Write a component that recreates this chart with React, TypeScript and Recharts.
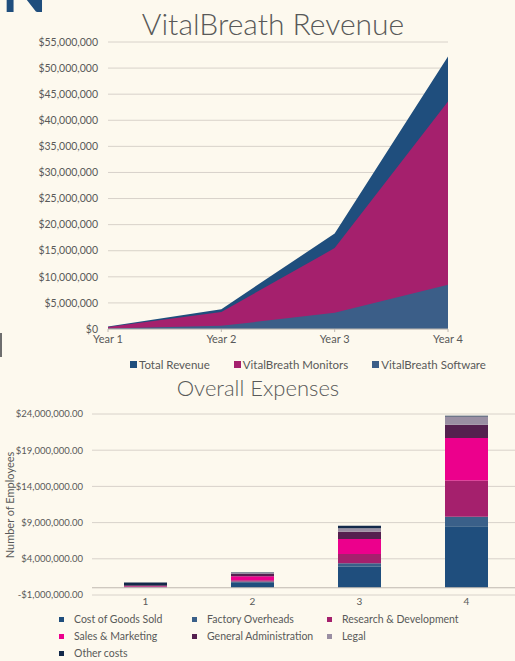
import React from "react";
import {
  AreaChart,
  Area,
  BarChart,
  Bar,
  XAxis,
  YAxis,
  CartesianGrid,
  ReferenceLine,
} from "recharts";

const years = ["Year 1", "Year 2", "Year 3", "Year 4"];
const totalRevenue = [500000, 3800000, 18300000, 52200000];
const monitorRevenue = [400000, 3250000, 15500000, 43600000];
const softwareRevenue = [100000, 600000, 3100000, 8500000];
const revenueTicks = [0, 5e6, 10e6, 15e6, 20e6, 25e6, 30e6, 35e6, 40e6, 45e6, 50e6, 55e6];

const periods = ["1", "2", "3", "4"];
const costOfGoodsSold = [50000, 750000, 2900000, 8500000];
const factoryOverheads = [20000, 100000, 500000, 1300000];
const researchDevelopment = [80000, 200000, 1250000, 5000000];
const salesMarketing = [70000, 550000, 2100000, 5900000];
const generalAdmin = [120000, 300000, 1000000, 1800000];
const legalCosts = [20000, 150000, 460000, 1150000];
const otherCosts = [380000, 50000, 370000, 100000];
const expenseTicks = [-1e6, 4e6, 9e6, 14e6, 19e6, 24e6];

const BG = "#FDF9EE";
const TEXT = "#595959";
const GRID = "#D8D2CA";
const FONT = "Lato, 'Open Sans', sans-serif";

const revenueSeries = [
  { key: "total", label: "Total Revenue", color: "#1F4E7D" },
  { key: "monitors", label: "VitalBreath Monitors", color: "#A5206D" },
  { key: "software", label: "VitalBreath Software", color: "#3B5E88" },
];

const expenseSeries = [
  { key: "cogs", label: "Cost of Goods Sold", color: "#1F4E7D" },
  { key: "factory", label: "Factory Overheads", color: "#3A6089" },
  { key: "rnd", label: "Research & Development", color: "#A5206D" },
  { key: "sales", label: "Sales & Marketing", color: "#EC008C" },
  { key: "admin", label: "General Administration", color: "#55204F" },
  { key: "legal", label: "Legal", color: "#9A8FA3" },
  { key: "other", label: "Other costs", color: "#13294A" },
];

const revenueData = years.map((y, i) => ({
  name: y,
  total: totalRevenue[i],
  monitors: monitorRevenue[i],
  software: softwareRevenue[i],
}));

const expenseData = periods.map((p, i) => ({
  name: p,
  cogs: costOfGoodsSold[i],
  factory: factoryOverheads[i],
  rnd: researchDevelopment[i],
  sales: salesMarketing[i],
  admin: generalAdmin[i],
  legal: legalCosts[i],
  other: otherCosts[i],
}));

const money = (v: number) => (v < 0 ? "-$" : "$") + Math.abs(v).toLocaleString("en-US");
const money2 = (v: number) =>
  (v < 0 ? "-$" : "$") + Math.abs(v).toLocaleString("en-US", { minimumFractionDigits: 2 });

export default function App() {
  return (
    <div
      style={{
        position: "absolute",
        left: 0,
        top: 0,
        width: 515,
        height: 661,
        overflow: "hidden",
        background: BG,
        fontFamily: FONT,
        color: TEXT,
      }}
    >
      {/* page decorations */}
      <div
        style={{
          position: "absolute",
          left: 2,
          top: -39,
          fontSize: 58,
          fontWeight: 700,
          lineHeight: 1,
          color: "#1F4E7D",
        }}
      >
        N
      </div>
      <div style={{ position: "absolute", left: 0, top: 333, width: 2, height: 24, background: "#6E6E6E" }} />

      {/* revenue chart */}
      <div
        style={{
          position: "absolute",
          left: 0,
          width: 546,
          top: 5,
          textAlign: "center",
          fontSize: 30,
          fontWeight: 300,
        }}
      >
        VitalBreath Revenue
      </div>
      <div style={{ position: "absolute", left: 0, top: 0 }}>
        <AreaChart
          width={515}
          height={347}
          data={revenueData}
          margin={{ top: 42, right: 67, bottom: 0, left: 0 }}
        >
          <CartesianGrid vertical={false} stroke={GRID} strokeWidth={1} />
          <XAxis
            dataKey="name"
            height={18}
            tick={{ fill: TEXT, fontSize: 11, fontFamily: FONT }}
            tickSize={3}
            tickMargin={3}
            axisLine={{ stroke: "#BFB8B0" }}
            tickLine={{ stroke: "#BFB8B0" }}
          />
          <YAxis
            width={108}
            domain={[0, 55e6]}
            ticks={revenueTicks}
            interval={0}
            tickFormatter={money}
            tick={{ fill: TEXT, fontSize: 10.5, fontFamily: FONT }}
            tickSize={0}
            tickMargin={10}
            axisLine={false}
            tickLine={false}
          />
          {revenueSeries.map((s) => (
            <Area
              key={s.key}
              type="linear"
              dataKey={s.key}
              fill={s.color}
              fillOpacity={1}
              stroke="none"
              isAnimationActive={false}
            />
          ))}
        </AreaChart>
      </div>
      <div
        style={{
          position: "absolute",
          left: 130,
          top: 358,
          display: "flex",
          gap: 24,
          fontSize: 11.5,
          whiteSpace: "nowrap",
        }}
      >
        {revenueSeries.map((s) => (
          <div key={s.key} style={{ display: "flex", alignItems: "center", gap: 2 }}>
            <span style={{ width: 7, height: 7, background: s.color, display: "inline-block" }} />
            <span>{s.label}</span>
          </div>
        ))}
      </div>

      {/* expenses chart */}
      <div
        style={{
          position: "absolute",
          left: 0,
          width: 516,
          top: 374,
          textAlign: "center",
          fontSize: 22,
          fontWeight: 300,
        }}
      >
        Overall Expenses
      </div>
      <div
        style={{
          position: "absolute",
          left: 10 - 60,
          top: 505 - 8,
          width: 120,
          height: 16,
          textAlign: "center",
          fontSize: 11,
          lineHeight: "16px",
          transform: "rotate(-90deg)",
          whiteSpace: "nowrap",
        }}
      >
        Number of Employees
      </div>
      <div style={{ position: "absolute", left: 0, top: 400 }}>
        <BarChart
          width={530}
          height={215}
          data={expenseData}
          margin={{ top: 14, right: 10, bottom: 0, left: 0 }}
        >
          <CartesianGrid vertical={false} stroke={GRID} strokeWidth={1} />
          <XAxis
            dataKey="name"
            height={20}
            tick={{ fill: TEXT, fontSize: 10, fontFamily: FONT }}
            tickSize={0}
            tickMargin={3}
            axisLine={false}
            tickLine={false}
          />
          <YAxis
            width={92}
            domain={[-1e6, 24e6]}
            ticks={expenseTicks}
            interval={0}
            tickFormatter={money2}
            tick={{ fill: TEXT, fontSize: 9.5, fontFamily: FONT }}
            tickSize={0}
            tickMargin={9}
            axisLine={false}
            tickLine={false}
          />
          <ReferenceLine y={0} stroke="#BFB8B0" strokeWidth={1} />
          {expenseSeries.map((s) => (
            <Bar key={s.key} dataKey={s.key} stackId="a" fill={s.color} barSize={43} isAnimationActive={false} />
          ))}
        </BarChart>
      </div>
      <div
        style={{
          position: "absolute",
          left: 59,
          top: 612,
          display: "grid",
          gridTemplateColumns: "133px 135px 160px",
          rowGap: 3,
          fontSize: 10.5,
          whiteSpace: "nowrap",
        }}
      >
        {expenseSeries.map((s) => (
          <div key={s.key} style={{ display: "flex", alignItems: "center", gap: 10, height: 14 }}>
            <span style={{ width: 5, height: 5, background: s.color, display: "inline-block" }} />
            <span>{s.label}</span>
          </div>
        ))}
      </div>
    </div>
  );
}
